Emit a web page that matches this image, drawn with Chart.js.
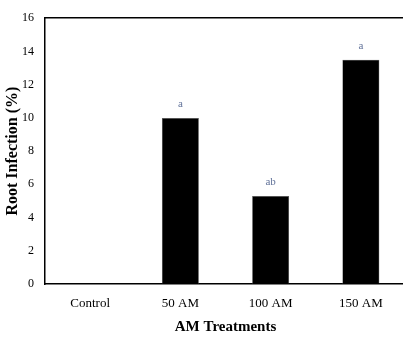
<!DOCTYPE html>
<html><head><meta charset="utf-8">
<script src="https://cdn.jsdelivr.net/npm/chart.js@4"></script>
<style>html,body{margin:0;padding:0;background:#fff;overflow:hidden;}#wrap{width:406px;height:338px;position:relative;}</style>
</head><body><div id="wrap"><canvas id="c"></canvas></div>
<script>
const categories = ["Control", "50 AM", "100 AM", "150 AM"];
const rootInfection = [0, 10, 5.3, 13.5];
const letters = ["", "a", "ab", "a"];
const yTicks = [0, 2, 4, 6, 8, 10, 12, 14, 16];

const letterPlugin = {
  id: 'letters',
  afterDatasetsDraw(chart) {
    const ctx = chart.ctx;
    const meta = chart.getDatasetMeta(0);
    ctx.save();
    ctx.font = '11px "Liberation Serif"';
    ctx.fillStyle = '#62739a';
    ctx.textAlign = 'center';
    ctx.textBaseline = 'bottom';
    meta.data.forEach((bar, i) => {
      if (letters[i]) ctx.fillText(letters[i], bar.x, bar.y - 8);
    });
    ctx.restore();
  }
};

new Chart(document.getElementById('c'), {
  type: 'bar',
  data: {
    labels: categories,
    datasets: [{
      data: rootInfection,
      backgroundColor: '#000000',
      borderColor: '#555555',
      borderWidth: 0.5,
      categoryPercentage: 1.0,
      barPercentage: 0.41
    }]
  },
  options: {
    responsive: true,
    maintainAspectRatio: false,
    animation: false,
    devicePixelRatio: 1,
    layout: { padding: { top: 0, right: 0, left: 0, bottom: 0 } },
    plugins: { legend: { display: false }, tooltip: { enabled: false } },
    scales: {
      x: {
        grid: { display: false, drawTicks: false },
        border: { display: true, color: '#000', width: 1.5 },
        ticks: { color: '#000', font: { family: 'Liberation Serif', size: 13 }, padding: 12, maxRotation: 0 },
        title: { display: true, text: 'AM Treatments', color: '#000', font: { family: 'Liberation Serif', size: 15, weight: 'bold' }, padding: { top: 4, bottom: 2 } },
        afterFit(axis) { axis.height = 54; }
      },
      xTop: {
        position: 'top',
        grid: { display: false, drawTicks: false },
        border: { display: true, color: '#000', width: 1.5 },
        ticks: { display: false },
        afterFit(axis) { axis.height = 13; }
      },
      y: {
        min: 0, max: 16,
        afterBuildTicks(axis) { axis.ticks = yTicks.map(v => ({ value: v })); },
        grid: { display: false, drawTicks: false },
        border: { display: true, color: '#000', width: 1.5 },
        ticks: { color: '#000', font: { family: 'Liberation Serif', size: 12 }, padding: 11 },
        title: { display: true, text: 'Root Infection (%)', color: '#000', font: { family: 'Liberation Serif', size: 16, weight: 'bold' }, padding: { top: 3, bottom: 0 } },
        afterFit(axis) { axis.width = 45; }
      }
    }
  },
  plugins: [letterPlugin]
});
</script></body></html>
